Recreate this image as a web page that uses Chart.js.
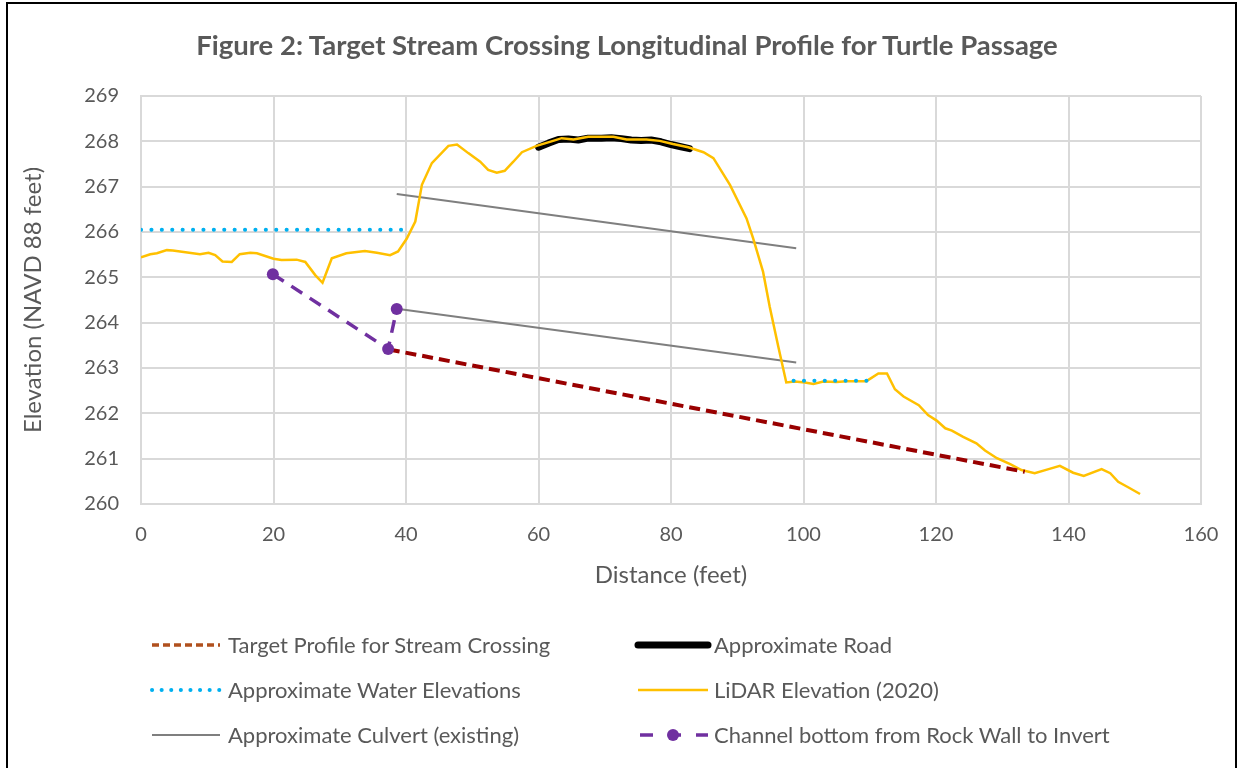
<!DOCTYPE html>
<html>
<head>
<meta charset="utf-8">
<script src="https://cdn.jsdelivr.net/npm/chart.js@4/dist/chart.umd.min.js"></script>
<style>
  html,body{margin:0;padding:0;background:#fff;}
  #wrap{position:relative;width:1244px;height:768px;overflow:hidden;}
  #frame{position:absolute;left:6px;top:2px;width:1231px;height:800px;border:2px solid #000;box-sizing:border-box;pointer-events:none;}
  canvas{position:absolute;left:0;top:0;}
  #title{position:absolute;left:127px;width:1000px;top:28px;height:34px;line-height:34px;text-align:center;font-family:Lato, "Open Sans", sans-serif;font-size:27.5px;font-weight:bold;color:#595959;white-space:nowrap;}
  .lg{position:absolute;font-family:Lato, "Open Sans", sans-serif;font-size:22px;color:#595959;white-space:nowrap;line-height:26px;}
  .sw{position:absolute;}
</style>
</head>
<body>
<div id="wrap">
  <canvas id="c" width="1244" height="768"></canvas>
  <div id="title"></div>
  <div id="legend"></div>
  <div id="frame"></div>
</div>
<script>
// ---- data ----
const lidarX = [0,1.4,2.4,3.9,4.8,8.9,10.2,11.2,12.3,13.7,14.9,16.5,17.5,20,21.2,23.5,24.8,26.3,27.4,28.8,31,33.8,35.6,37.6,38.8,40.1,41.4,42.4,43.9,46.4,47.7,49.4,51.2,52.4,53.7,54.9,56.2,57.5,59.7,62.2,63.5,65.3,67.5,71.3,73.3,76.3,78.3,80.3,82.6,84.9,86.4,88.9,91.4,92.4,93.9,94.9,96.2,97.4,98.7,100.2,101.5,103,105,106.5,109.5,111.3,112.6,113.8,115.1,117.4,118.8,120.1,121.4,122.4,124.1,126.1,127.4,129.2,131.2,132.9,134.9,137,138.7,140.7,142.3,145,146.3,147.5,149,150.8];
const lidarY = [265.44,265.51,265.53,265.6,265.59,265.51,265.54,265.49,265.35,265.34,265.51,265.54,265.53,265.41,265.38,265.39,265.34,265.05,264.88,265.42,265.53,265.58,265.54,265.49,265.57,265.85,266.23,267.04,267.52,267.90,267.93,267.74,267.55,267.37,267.31,267.35,267.55,267.76,267.90,268.01,268.07,268.04,268.10,268.10,268.04,268.04,268.01,267.94,267.87,267.76,267.63,267.04,266.30,265.86,265.12,264.35,263.47,262.68,262.70,262.68,262.65,262.70,262.69,262.71,262.71,262.88,262.88,262.53,262.37,262.18,261.96,261.84,261.67,261.62,261.48,261.34,261.18,261.01,260.88,260.75,260.68,260.77,260.84,260.69,260.62,260.77,260.68,260.49,260.37,260.22];

const roadX = [60,61.5,63,64.5,66,67.5,69.5,71,72.5,74,75.5,77,78.5,80,81.5,82.8];
const roadY = [267.87,267.96,268.04,268.05,268.03,268.07,268.07,268.08,268.06,268.03,268.02,268.03,267.99,267.93,267.88,267.84];

// null separates the two segments
const waterX = [0,40,70,98.5,109.8];
const waterY = [266.05,266.05,null,262.72,262.72];

const culvertX = [38.6,98.9,70,38.9,98.9];
const culvertY = [266.84,265.64,null,264.30,263.12];

const targetX = [37.4,133.4];
const targetY = [263.41,260.71];

const channelX = [19.9,37.3,38.6];
const channelY = [265.07,263.42,264.30];

const xTicks = [0,20,40,60,80,100,120,140,160];
const yTicks = [260,261,262,263,264,265,266,267,268,269];

const labels = {
  target: "Target Profile for Stream Crossing",
  road: "Approximate Road",
  water: "Approximate Water Elevations",
  lidar: "LiDAR Elevation (2020)",
  culvert: "Approximate Culvert (existing)",
  channel: "Channel bottom from Rock Wall to Invert"
};
const titleText = "Figure 2: Target Stream Crossing Longitudinal Profile for Turtle Passage";

function pts(xs, ys){ return xs.map((x,i)=>({x:x, y:ys[i]})); }

const FONT = 'Lato, "Open Sans", sans-serif';
const GRAY = '#595959';
const GRID = '#D9D9D9';

document.getElementById('title').textContent = titleText;

const datasets = [
  {label: labels.water, data: pts(waterX, waterY), borderColor:'#00B0F0', borderWidth:4, borderDash:[0.1,10.3], borderCapStyle:'round', pointRadius:0, spanGaps:false, tension:0},
  {label: labels.channel, data: pts(channelX, channelY), borderColor:'#7030A0', backgroundColor:'#7030A0', borderWidth:3.5, borderDash:[13,9], pointRadius:6, pointBorderWidth:0, pointBackgroundColor:'#7030A0', tension:0},
  {label: labels.target, data: pts(targetX, targetY), borderColor:'#990000', borderWidth:4, borderDash:[11,6], pointRadius:0, tension:0},
  {label: labels.lidar, data: pts(lidarX, lidarY), borderColor:'#FFC000', borderWidth:2.5, pointRadius:0, tension:0},
  {label: labels.road, data: pts(roadX, roadY), borderColor:'#000000', borderWidth:7, borderCapStyle:'round', borderJoinStyle:'round', pointRadius:0, tension:0},
  {label: labels.culvert, data: pts(culvertX, culvertY), borderColor:'#7F7F7F', borderWidth:2, pointRadius:0, spanGaps:false, tension:0}
];

const chart = new Chart(document.getElementById('c'), {
  type: 'line',
  data: { datasets: datasets },
  options: {
    responsive: false,
    animation: false,
    devicePixelRatio: 1,
    layout: { padding: { left: 0, right: 43, top: 96, bottom: 168 } },
    plugins: {
      legend: { display: false },
      tooltip: { enabled: false },
      title: { display: false }
    },
    scales: {
      x: {
        type: 'linear', min: 0, max: 160,
        afterBuildTicks: s => { s.ticks = xTicks.map(v => ({value: v})); },
        afterFit: s => { s.height = 96; },
        grid: { color: GRID, lineWidth: 2, drawTicks: false },
        border: { color: GRID, width: 2 },
        ticks: { color: GRAY, font: { family: FONT, size: 20 }, padding: 19, maxRotation: 0 },
        title: { display: true, text: 'Distance (feet)', color: GRAY, font: { family: FONT, size: 24 }, padding: { top: 0, bottom: 10.5 } }
      },
      y: {
        type: 'linear', min: 260, max: 269,
        afterBuildTicks: s => { s.ticks = yTicks.map(v => ({value: v})); },
        afterFit: s => { s.width = 141; },
        grid: { color: GRID, lineWidth: 2, drawTicks: false },
        border: { color: GRID, width: 2 },
        ticks: { color: GRAY, font: { family: FONT, size: 20 }, padding: 22 },
        title: { display: true, text: 'Elevation (NAVD 88 feet)', color: GRAY, font: { family: FONT, size: 24 }, padding: { top: 18.5, bottom: 0 } }
      }
    }
  }
});

// ---- HTML legend built from the datasets ----
function dsBy(label){ return chart.data.datasets.find(d => d.label === label); }
const legendItems = [
  {key:'target', col:0, row:0, color:'#B0501E'},
  {key:'road', col:1, row:0},
  {key:'water', col:0, row:1},
  {key:'lidar', col:1, row:1},
  {key:'culvert', col:0, row:2},
  {key:'channel', col:1, row:2}
];
const colSw = [[152,220],[638,708]];
const colTx = [228, 714];
const rowY = [645, 690, 735];
const lg = document.getElementById('legend');
legendItems.forEach(it => {
  const ds = dsBy(labels[it.key]);
  const color = it.color || ds.borderColor;
  const [x1, x2] = colSw[it.col];
  const y = rowY[it.row];
  const svgNS = 'http://www.w3.org/2000/svg';
  const svg = document.createElementNS(svgNS, 'svg');
  svg.setAttribute('width', x2 - x1 + 12);
  svg.setAttribute('height', 20);
  svg.setAttribute('class', 'sw');
  svg.style.left = (x1 - 6) + 'px';
  svg.style.top = (y - 10) + 'px';
  const line = document.createElementNS(svgNS, 'line');
  line.setAttribute('x1', 6); line.setAttribute('x2', x2 - x1 + 6);
  line.setAttribute('y1', 10); line.setAttribute('y2', 10);
  line.setAttribute('stroke', color);
  let w = ds.borderWidth;
  if (it.key === 'target') { line.setAttribute('stroke-dasharray', '7,4'); w = 3.5; }
  if (it.key === 'water') { line.setAttribute('stroke-dasharray', '0.1,9.5'); line.setAttribute('stroke-linecap','round'); }
  if (it.key === 'road') { line.setAttribute('stroke-linecap','round'); w = 7; }
  if (it.key === 'channel') { line.setAttribute('stroke-dasharray', '13,15'); line.setAttribute('stroke-dashoffset', '-2'); }
  line.setAttribute('stroke-width', w);
  svg.appendChild(line);
  if (it.key === 'channel') {
    const c = document.createElementNS(svgNS, 'circle');
    c.setAttribute('cx', (x2 - x1) / 2 + 6); c.setAttribute('cy', 10); c.setAttribute('r', 6);
    c.setAttribute('fill', color);
    svg.appendChild(c);
  }
  lg.appendChild(svg);
  const t = document.createElement('div');
  t.className = 'lg';
  t.textContent = ds.label;
  t.style.left = colTx[it.col] + 'px';
  t.style.top = (y - 13) + 'px';
  lg.appendChild(t);
});
</script>
</body>
</html>
